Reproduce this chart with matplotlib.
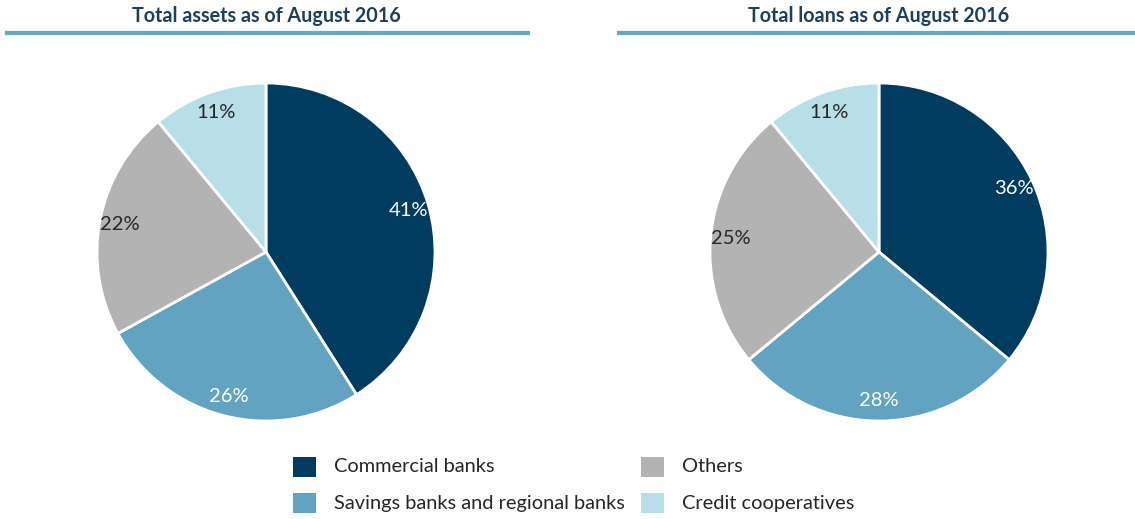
import matplotlib
matplotlib.use("Agg")
import matplotlib.pyplot as plt
from matplotlib.patches import Rectangle
from matplotlib.lines import Line2D

categories = ["Commercial banks", "Savings banks and regional banks", "Others", "Credit cooperatives"]
assets_share = [41, 26, 22, 11]
loans_share = [36, 28, 25, 11]
titles = ["Total assets as of August 2016", "Total loans as of August 2016"]

colors = ["#003c5f", "#61a3c0", "#b3b3b3", "#b8dee8"]
label_colors = ["white", "white", "#262626", "#262626"]
title_color = "#1c3f5e"
rule_color = "#6aa6c2"

plt.rcParams["font.family"] = ["Lato", "DejaVu Sans"]

W, H = 1135, 519
fig = plt.figure(figsize=(W / 100, H / 100), dpi=100)


def px_axes(cx, cy, r):
    return fig.add_axes([(cx - r) / W, 1 - (cy + r) / H, 2 * r / W, 2 * r / H])


def draw_pie(ax, values):
    wedges, texts = ax.pie(
        values, colors=colors, startangle=90, counterclock=False,
        labels=[f"{v}%" for v in values], labeldistance=0.88,
        wedgeprops=dict(edgecolor="white", linewidth=2),
        textprops=dict(fontsize=14.5, ha="center", va="center"),
    )
    for t, c in zip(texts, label_colors):
        t.set_color(c)
    ax.set_xlim(-1.02, 1.02)
    ax.set_ylim(-1.02, 1.02)
    ax.set_aspect("equal")
    ax.axis("off")


r = 169 * 1.02
ax1 = px_axes(266, 252, r)
draw_pie(ax1, assets_share)
ax2 = px_axes(879, 252, r)
draw_pie(ax2, loans_share)

# Titles with rules underneath
for title, cx, x0, x1 in [(titles[0], 266, 7, 528), (titles[1], 879, 619, 1135)]:
    fig.text(cx / W, 1 - 16 / H, title, ha="center", va="center",
             fontsize=14.2, fontweight="bold", color=title_color)
    fig.add_artist(Line2D([x0 / W, x1 / W], [1 - 33 / H, 1 - 33 / H],
                          color=rule_color, linewidth=3))

# Legend in two columns
legend_pos = [(293, 467), (293, 503), (641, 467), (641, 503)]
for (x, y), name, col in zip(legend_pos, categories, colors):
    fig.add_artist(Rectangle((x / W, 1 - (y + 10) / H), 23 / W, 20 / H,
                             facecolor=col, edgecolor="none"))
    fig.text((x + 41) / W, 1 - y / H, name, ha="left", va="center",
             fontsize=14.4, color="#262626")

fig.savefig("out.png", dpi=100)
